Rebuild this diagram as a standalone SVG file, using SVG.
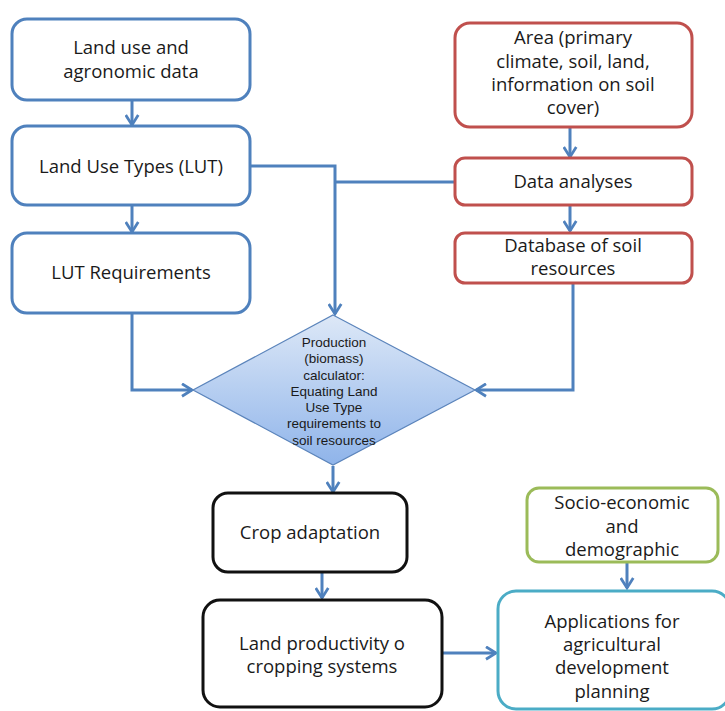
<svg xmlns="http://www.w3.org/2000/svg" width="725" height="711" viewBox="0 0 725 711">
  <defs>
    <style>
      .box { fill: #ffffff; stroke-width: 3; }
      .blue { stroke: #4f81bd; }
      .red { stroke: #c0504d; }
      .black { stroke: #111111; }
      .green { stroke: #9bbb59; }
      .cyan { stroke: #4bacc6; }
      .lbl { font-family: "Open Sans", "Liberation Sans", sans-serif; font-size: 18.5px; fill: #1a1a1a; text-anchor: middle; }
      .small { font-family: "Liberation Sans", Arial, sans-serif; font-size: 13.5px; fill: #1a1a1a; text-anchor: middle; }
      .conn { fill: none; stroke: #4f81bd; stroke-width: 3; marker-end: url(#arrow); }
      .line { fill: none; stroke: #4f81bd; stroke-width: 3; }
    </style>
    <marker id="arrow" viewBox="0 0 12 12" refX="10" refY="6" markerWidth="5" markerHeight="5" orient="auto" markerUnits="strokeWidth">
      <path d="M2,1 L10,6 L2,11" fill="none" stroke="#4f81bd" stroke-width="2.2" stroke-linejoin="miter"/>
    </marker>
    <linearGradient id="diamondFill" x1="0" y1="0" x2="0" y2="1">
      <stop offset="0" stop-color="#dde8f7"/>
      <stop offset="1" stop-color="#8fb4ea"/>
    </linearGradient>
  </defs>

  <!-- connectors -->
  <g id="connectors">
    <path class="conn" d="M132,100 V125"/>
    <path class="conn" d="M132,205 V232"/>
    <path class="conn" d="M250,166 H335 V314"/>
    <path class="line" d="M335,182 H455"/>
    <path class="conn" d="M570,127 V157"/>
    <path class="conn" d="M570,205 V231"/>
    <path class="conn" d="M132,313 V390 H192"/>
    <path class="conn" d="M573,283 V390 H476"/>
    <path class="conn" d="M333,466 V492"/>
    <path class="conn" d="M322,572 V598"/>
    <path class="conn" d="M442,653 H496"/>
    <path class="conn" d="M627,562 V588"/>
  </g>

  <!-- left column -->
  <g id="land-use-data">
    <rect class="box blue" x="12" y="19" width="238" height="81" rx="15"/>
    <text class="lbl" x="131" y="54">Land use and</text>
    <text class="lbl" x="131" y="78">agronomic data</text>
  </g>
  <g id="land-use-types">
    <rect class="box blue" x="12" y="126" width="238" height="79" rx="15"/>
    <text class="lbl" x="131" y="173">Land Use Types (LUT)</text>
  </g>
  <g id="lut-requirements">
    <rect class="box blue" x="12" y="233" width="238" height="80" rx="15"/>
    <text class="lbl" x="131" y="279">LUT Requirements</text>
  </g>

  <!-- right column -->
  <g id="area">
    <rect class="box red" x="455" y="23" width="237" height="104" rx="15"/>
    <text class="lbl" x="573" y="44">Area (primary</text>
    <text class="lbl" x="573" y="68">climate, soil, land,</text>
    <text class="lbl" x="573" y="91">information on soil</text>
    <text class="lbl" x="573" y="114">cover)</text>
  </g>
  <g id="data-analyses">
    <rect class="box red" x="455" y="158" width="237" height="47" rx="10"/>
    <text class="lbl" x="573" y="188">Data analyses</text>
  </g>
  <g id="soil-database">
    <rect class="box red" x="455" y="233" width="237" height="50" rx="10"/>
    <text class="lbl" x="573" y="252">Database of soil</text>
    <text class="lbl" x="573" y="275">resources</text>
  </g>

  <!-- calculator -->
  <g id="calculator">
    <polygon points="333,315 475,390 333,465 193,390" fill="url(#diamondFill)" stroke="#5b84bb" stroke-width="1.2"/>
    <text class="small" x="334" y="347">Production</text>
    <text class="small" x="334" y="363">(biomass)</text>
    <text class="small" x="334" y="380">calculator:</text>
    <text class="small" x="334" y="396">Equating Land</text>
    <text class="small" x="334" y="412">Use Type</text>
    <text class="small" x="334" y="428">requirements to</text>
    <text class="small" x="334" y="445">soil resources</text>
  </g>

  <!-- bottom -->
  <g id="crop-adaptation">
    <rect class="box black" x="213" y="493" width="194" height="79" rx="15"/>
    <text class="lbl" x="310" y="539">Crop adaptation</text>
  </g>
  <g id="land-productivity">
    <rect class="box black" x="203" y="600" width="239" height="107" rx="17"/>
    <text class="lbl" x="322" y="650">Land productivity o</text>
    <text class="lbl" x="322" y="673">cropping systems</text>
  </g>
  <g id="socio-economic">
    <rect class="box green" x="527" y="488" width="191" height="74" rx="12"/>
    <text class="lbl" x="622" y="509">Socio-economic</text>
    <text class="lbl" x="622" y="533">and</text>
    <text class="lbl" x="622" y="556">demographic</text>
  </g>
  <g id="applications">
    <rect class="box cyan" x="498" y="591" width="232" height="118" rx="18"/>
    <text class="lbl" x="612" y="628">Applications for</text>
    <text class="lbl" x="612" y="651">agricultural</text>
    <text class="lbl" x="612" y="674">development</text>
    <text class="lbl" x="612" y="698">planning</text>
  </g>
</svg>
